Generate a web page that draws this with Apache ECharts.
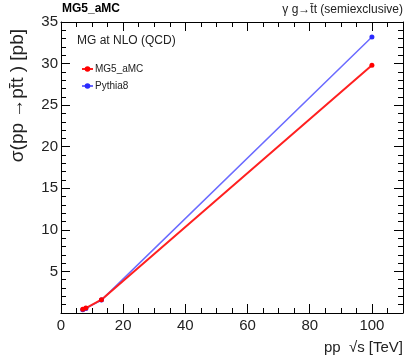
<!DOCTYPE html>
<html>
<head>
<meta charset="utf-8">
<script src="https://cdn.jsdelivr.net/npm/echarts@6/dist/echarts.min.js"></script>
<style>
html,body{margin:0;padding:0;background:#fff;}
#chart{width:406px;height:358px;}
</style>
</head>
<body>
<div id="chart"></div>
<script>
// Collision energies (TeV) and cross sections (pb)
const energies = [7, 8, 13, 100];
const mg5amc = [0.45, 0.6, 1.6, 29.8];
const pythia8 = [0.4, 0.55, 1.55, 33.2];
const seriesNames = ['MG5_aMC', 'Pythia8'];

const FONT = 'Liberation Sans, Arial, Helvetica, sans-serif';
const pairs = (xs, ys) => xs.map((x, i) => [x, ys[i]]);

const chart = echarts.init(document.getElementById('chart'), null, {renderer: 'canvas'});

const gridBox = {left: 61, right: 3, top: 22, bottom: 45};

function xAxisDef(pos, major, show) {
  return {
    type: 'value', position: pos, min: 0, max: 110,
    interval: major ? 20 : 5,
    axisLine: {show: major, onZero: false, lineStyle: {color: '#000', width: 1}},
    axisTick: {show: true, inside: true, length: major ? 9 : 5, lineStyle: {color: '#000', width: 1}},
    axisLabel: {show: show, color: '#222', fontFamily: FONT, fontSize: 15, margin: 5, showMaxLabel: false},
    splitLine: {show: false}
  };
}
function yAxisDef(pos, show) {
  return {
    type: 'value', position: pos, min: 0, max: 35, interval: 5,
    axisLine: {show: true, onZero: false, lineStyle: {color: '#000', width: 1}},
    axisTick: {show: true, inside: true, length: 9, lineStyle: {color: '#000', width: 1}},
    minorTick: {show: true, splitNumber: 5, length: 5, lineStyle: {color: '#000', width: 1}},
    axisLabel: {show: show, color: '#222', fontFamily: FONT, fontSize: 15, margin: 3, showMinLabel: false},
    splitLine: {show: false}
  };
}

const option = {
  animation: false,
  backgroundColor: '#fff',
  grid: Object.assign({containLabel: false}, gridBox),
  xAxis: [
    xAxisDef('bottom', true, true),
    xAxisDef('top', true, false),
    xAxisDef('bottom', false, false),
    xAxisDef('top', false, false)
  ],
  yAxis: [
    yAxisDef('left', true),
    yAxisDef('right', false)
  ],
  legend: {
    orient: 'vertical', left: 76, top: 59, itemGap: 7,
    itemWidth: 11, itemHeight: 7,
    textStyle: {fontFamily: FONT, fontSize: 10, color: '#222', padding: [0, 0, 0, -3]},
    data: seriesNames
  },
  series: [
    {
      name: seriesNames[1], type: 'line', xAxisIndex: 0, yAxisIndex: 0,
      data: pairs(energies, pythia8),
      symbol: 'circle', symbolSize: 5,
      itemStyle: {color: '#2a2aff'},
      lineStyle: {color: '#6b6bff', width: 1.5}
    },
    {
      name: seriesNames[0], type: 'line', xAxisIndex: 0, yAxisIndex: 0,
      data: pairs(energies, mg5amc),
      symbol: 'circle', symbolSize: 5,
      itemStyle: {color: '#ff0000'},
      lineStyle: {color: '#ff2020', width: 2}
    }
  ],
  graphic: [
    {type: 'text', left: 62, top: 3,
     style: {text: 'MG5_aMC', fontFamily: FONT, fontSize: 12, fontWeight: 'bold', fill: '#000'}},
    {type: 'text', right: 3, top: 4,
     style: {text: 'γ g→t\u0304t (semiexclusive)', fontFamily: FONT, fontSize: 12, fill: '#222'}},
    {type: 'text', left: 77, top: 35,
     style: {text: 'MG at NLO (QCD)', fontFamily: FONT, fontSize: 12, fill: '#222'}},
    {type: 'text', x: 18, y: 29, rotation: Math.PI / 2,
     style: {text: 'σ(pp →pt\u0304t ) [pb]', fontFamily: FONT, fontSize: 19, fill: '#222',
             align: 'right', verticalAlign: 'middle'}},
    {type: 'text', x: 403, y: 348,
     style: {text: 'pp  √s [TeV]', fontFamily: FONT, fontSize: 15, fill: '#222',
             align: 'right', verticalAlign: 'middle'}}
  ]
};
chart.setOption(option);
</script>
</body>
</html>
